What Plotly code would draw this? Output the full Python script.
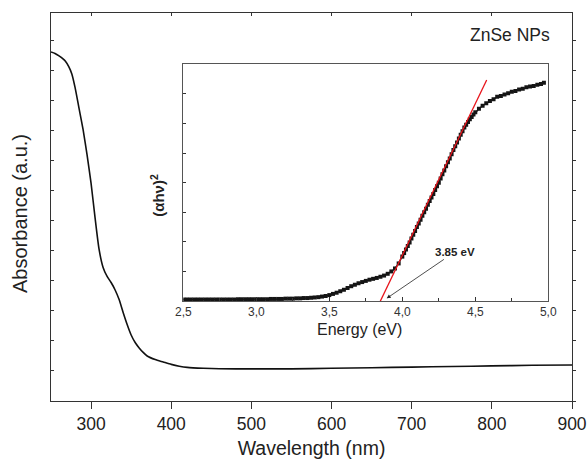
import plotly.graph_objects as go

# Main absorbance spectrum
wavelength_nm = [250, 255, 260, 265, 268, 272, 276, 280, 285, 290, 295, 300, 305, 310,
                 315, 320, 325, 330, 335, 340, 345, 350, 355, 360, 365, 370, 380, 390,
                 400, 410, 420, 440, 460, 500, 550, 600, 650, 700, 750, 800, 850, 900]
absorbance = [11.63, 11.58, 11.50, 11.40, 11.32, 11.15, 10.90, 10.45, 9.75, 9.05, 8.20, 7.25,
              6.10, 5.05, 4.45, 4.15, 3.95, 3.70, 3.38, 2.95, 2.55, 2.20, 1.95, 1.77, 1.62,
              1.50, 1.38, 1.30, 1.22, 1.16, 1.12, 1.09, 1.075, 1.07, 1.07, 1.09, 1.11, 1.13,
              1.15, 1.17, 1.19, 1.20]

# Inset Tauc plot
energy_eV = [2.500, 2.525, 2.550, 2.575, 2.600, 2.625, 2.650, 2.675, 2.700, 2.725,
             2.750, 2.775, 2.800, 2.825, 2.850, 2.875, 2.900, 2.925, 2.950, 2.975,
             3.000, 3.025, 3.050, 3.075, 3.100, 3.125, 3.150, 3.175, 3.200, 3.225,
             3.250, 3.275, 3.300, 3.325, 3.350, 3.375, 3.400, 3.425, 3.450, 3.475,
             3.500, 3.525, 3.550, 3.575, 3.600, 3.625, 3.650, 3.675, 3.700, 3.725,
             3.750, 3.775, 3.800, 3.825, 3.850, 3.875, 3.900, 3.925, 3.950, 3.975,
             4.000, 4.0125, 4.025, 4.0375, 4.050, 4.0625, 4.075, 4.0875, 4.100, 4.1125,
             4.125, 4.1375, 4.150, 4.1625, 4.175, 4.1875, 4.200, 4.2125, 4.225, 4.2375,
             4.250, 4.2625, 4.275, 4.2875, 4.300, 4.3125, 4.325, 4.3375, 4.350, 4.3625,
             4.375, 4.3875, 4.400, 4.4125, 4.425, 4.4375, 4.450, 4.4625, 4.475, 4.4875,
             4.500, 4.525, 4.550, 4.575, 4.600, 4.625, 4.650, 4.675, 4.700, 4.725,
             4.750, 4.775, 4.800, 4.825, 4.850, 4.875, 4.900, 4.925, 4.950, 4.970]
alpha_hv_sq = [0.05, 0.05, 0.05, 0.05, 0.05, 0.05, 0.05, 0.05, 0.05, 0.05,
               0.05, 0.05, 0.05, 0.05, 0.05, 0.06, 0.06, 0.06, 0.06, 0.06,
               0.06, 0.06, 0.06, 0.06, 0.07, 0.07, 0.07, 0.07, 0.08, 0.08,
               0.08, 0.09, 0.09, 0.10, 0.10, 0.11, 0.12, 0.13, 0.15, 0.17,
               0.20, 0.24, 0.28, 0.33, 0.38, 0.44, 0.50, 0.55, 0.60, 0.64,
               0.68, 0.72, 0.75, 0.78, 0.82, 0.86, 0.92, 1.00, 1.10, 1.27,
               1.50, 1.62, 1.74, 1.86, 1.98, 2.11, 2.24, 2.37, 2.50, 2.62,
               2.75, 2.88, 3.00, 3.12, 3.25, 3.38, 3.50, 3.62, 3.75, 3.88,
               4.00, 4.14, 4.28, 4.41, 4.55, 4.69, 4.82, 4.96, 5.10, 5.23,
               5.36, 5.49, 5.62, 5.74, 5.86, 5.96, 6.05, 6.14, 6.22, 6.30,
               6.38, 6.50, 6.60, 6.68, 6.76, 6.82, 6.90, 6.93, 6.98, 7.02,
               7.07, 7.10, 7.15, 7.17, 7.22, 7.25, 7.27, 7.31, 7.33, 7.38]

# Linear fit (band gap extrapolation)
fit_E = [3.843, 4.578]
fit_y = [-0.07, 7.47]

x_ticks = [300, 400, 500, 600, 700, 800, 900]
inset_ticks = [2.5, 3.0, 3.5, 4.0, 4.5, 5.0]
inset_ticktext = ["2,5", "3,0", "3,5", "4,0", "4,5", "5,0"]
main_y_ticks = list(range(0, 13))
inset_y_ticks = list(range(0, 9))

FONT = "Arial, Liberation Sans, Helvetica, sans-serif"
AX = "#333333"

fig = go.Figure()
fig.add_trace(go.Scatter(x=wavelength_nm, y=absorbance, mode="lines",
                         line=dict(color="#111111", width=1.6, shape="spline", smoothing=0.6),
                         xaxis="x", yaxis="y", showlegend=False))
# invisible traces to anchor mirror-tick axes
fig.add_trace(go.Scatter(x=[None], y=[None], xaxis="x3", yaxis="y", showlegend=False))
fig.add_trace(go.Scatter(x=[None], y=[None], xaxis="x", yaxis="y3", showlegend=False))

fig.add_trace(go.Scatter(x=energy_eV, y=alpha_hv_sq, mode="lines+markers",
                         line=dict(color="#151515", width=1.4),
                         marker=dict(symbol="square", size=4, color="#151515"),
                         xaxis="x2", yaxis="y2", showlegend=False))
fig.add_trace(go.Scatter(x=fit_E, y=fit_y, mode="lines",
                         line=dict(color="#e8141b", width=1.3),
                         xaxis="x2", yaxis="y2", showlegend=False))

main_yrange = [0, 12.93]
fig.update_layout(
    width=587, height=468,
    margin=dict(l=51, r=15, t=13, b=67),
    paper_bgcolor="white", plot_bgcolor="white",
    font=dict(family=FONT, color="#222222"),
    xaxis=dict(domain=[0, 1], range=[250, 900], tickvals=x_ticks, ticks="outside",
               ticklen=7, tickwidth=1.2, tickcolor=AX, showline=True, linecolor=AX,
               linewidth=1.3, mirror=True, showgrid=False, zeroline=False, automargin=False,
               tickfont=dict(size=17.5, color="#222222"),
               title=dict(text="Wavelength (nm)", font=dict(size=19.5, color="#222222"),
                          standoff=8)),
    xaxis3=dict(overlaying="x", side="top", anchor="y", range=[250, 900], tickvals=x_ticks,
                ticks="inside", ticklen=3, tickcolor=AX, showticklabels=False,
                showgrid=False, zeroline=False, showline=False, automargin=False),
    yaxis=dict(domain=[0, 1], range=main_yrange, tickvals=main_y_ticks, ticks="inside",
               ticklen=3, tickcolor=AX, showticklabels=False, showline=True, automargin=False,
               linecolor=AX, linewidth=1.3, mirror=True, showgrid=False, zeroline=False),
    yaxis3=dict(overlaying="y", side="right", anchor="x", range=main_yrange,
                tickvals=main_y_ticks, ticks="outside", ticklen=3, tickcolor=AX,
                showticklabels=False, showgrid=False, zeroline=False, showline=False,
                automargin=False),
    xaxis2=dict(domain=[0.254, 0.9545], anchor="y2", range=[2.5, 5.0],
                tickvals=inset_ticks, ticktext=inset_ticktext, ticks="inside", ticklen=4,
                tickcolor=AX, minor=dict(ticks="inside", ticklen=3, dtick=0.25,
                                         tick0=2.5, tickcolor=AX),
                showline=True, linecolor="#555555", linewidth=1.1, mirror=True,
                automargin=False,
                showgrid=False, zeroline=False, tickfont=dict(size=12, color="#333333")),
    yaxis2=dict(domain=[0.2577, 0.8678], anchor="x2", range=[0, 8], tickvals=inset_y_ticks,
                ticks="inside", ticklen=3, tickcolor=AX, showticklabels=False,
                showline=True, linecolor="#555555", linewidth=1.1, mirror=True,
                automargin=False, showgrid=False, zeroline=False),
    annotations=[
        dict(text="Absorbance (a.u.)", xref="paper", yref="paper", x=-0.0595, y=0.482,
             textangle=-90, showarrow=False, font=dict(size=20, color="#222222"),
             xanchor="center", yanchor="middle"),
        dict(text="ZnSe NPs", xref="paper", yref="paper", x=0.881, y=0.943,
             showarrow=False, font=dict(size=17.5, color="#222222"),
             xanchor="center", yanchor="middle"),
        dict(text="<b>(αhν)<sup>2</sup></b>", xref="paper", yref="paper", x=0.205, y=0.531,
             textangle=-90, showarrow=False, font=dict(size=15, color="#222222"),
             xanchor="center", yanchor="middle"),
        dict(text="Energy (eV)", xref="paper", yref="paper", x=0.593, y=0.183,
             showarrow=False, font=dict(size=16, color="#222222"),
             xanchor="center", yanchor="middle"),
        dict(text="<b>3.85 eV</b>", xref="x2", yref="y2", x=3.893, y=0.09,
             axref="x2", ayref="y2", ax=4.36, ay=1.66, showarrow=True,
             arrowhead=2, arrowsize=1, arrowwidth=0.8, arrowcolor="#222222",
             font=dict(size=11.5, color="#222222")),
    ],
)

fig.write_html("out.html", config={"displayModeBar": False},
               post_script="document.body.style.margin='0';document.body.style.overflow='hidden';")
